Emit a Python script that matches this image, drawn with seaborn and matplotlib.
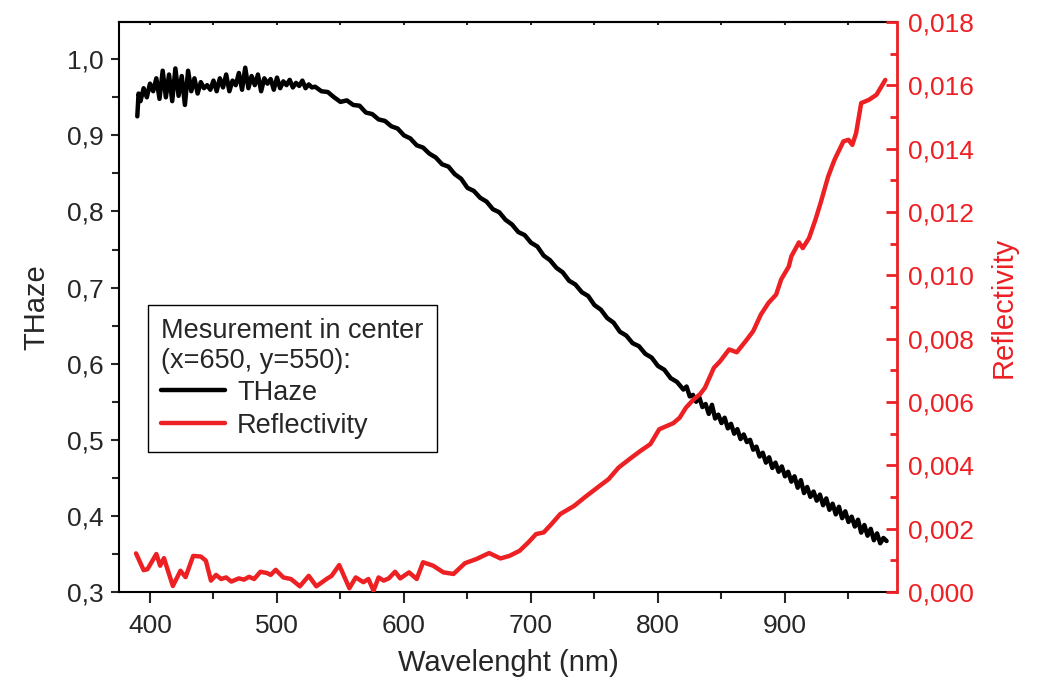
import numpy as np
import pandas as pd
import matplotlib
matplotlib.use('Agg')
import matplotlib.pyplot as plt
from matplotlib.ticker import MultipleLocator, FuncFormatter
import seaborn as sns

# THaze (left axis)
haze_wl = [390, 391, 392.5, 395, 397.5, 400, 402.5, 405, 407.5, 410, 412.5, 415, 417.5,
           420, 422.5, 425, 427.5, 430, 432.5, 435, 437.5, 440, 442.5, 445, 447.5,
           450, 452.5, 455, 457.5, 460, 462.5, 465, 467.5, 470, 472.5, 475, 477.5,
           480, 482.5, 485, 487.5, 490, 492.5, 495, 497.5, 500, 502.5, 505, 507.5,
           510, 512.5, 515, 517.5, 520, 522.5, 525, 527.5, 530,
           535, 540, 545, 550, 555, 560, 565, 570, 575, 580, 585, 590, 595, 600,
           605, 610, 615, 620, 625, 630, 635, 640, 645, 650, 655, 660, 665, 670,
           675, 680, 685, 690, 695, 700, 705, 710, 715, 720, 725, 730, 735, 740,
           745, 750, 755, 760, 765, 770, 775, 780, 785, 790, 795, 800, 805, 810, 815,
           820, 822.5, 825, 827.5, 830, 832.5, 835, 837.5, 840, 842.5, 845, 847.5,
           850, 852.5, 855, 857.5, 860, 862.5, 865, 867.5, 870, 872.5, 875, 877.5,
           880, 882.5, 885, 887.5, 890, 892.5, 895, 897.5, 900, 902.5, 905, 907.5,
           910, 912.5, 915, 917.5, 920, 922.5, 925, 927.5, 930, 932.5, 935, 937.5,
           940, 942.5, 945, 947.5, 950, 952.5, 955, 957.5, 960, 962.5, 965, 967.5,
           970, 972.5, 975, 977.5, 980]
haze_val = [0.925, 0.955, 0.945, 0.962, 0.950, 0.968, 0.958, 0.975, 0.948, 0.985, 0.950,
            0.980, 0.945, 0.988, 0.952, 0.978, 0.940, 0.985, 0.958, 0.975, 0.955, 0.970,
            0.962, 0.966, 0.960, 0.972, 0.958, 0.975, 0.963, 0.980, 0.958, 0.972, 0.966,
            0.982, 0.960, 0.989, 0.962, 0.978, 0.966, 0.980, 0.958, 0.975, 0.968, 0.974,
            0.960, 0.976, 0.962, 0.971, 0.966, 0.973, 0.963, 0.969, 0.965, 0.972, 0.962,
            0.967, 0.963, 0.964,
            0.958, 0.957, 0.950, 0.944, 0.946, 0.940, 0.939, 0.930, 0.928, 0.921, 0.919,
            0.912, 0.909, 0.900, 0.896, 0.887, 0.884, 0.876, 0.871, 0.862, 0.859, 0.849,
            0.843, 0.831, 0.827, 0.818, 0.813, 0.803, 0.799, 0.789, 0.783, 0.773, 0.769,
            0.759, 0.754, 0.742, 0.736, 0.726, 0.720, 0.709, 0.704, 0.694, 0.689, 0.677,
            0.671, 0.660, 0.654, 0.642, 0.637, 0.627, 0.623, 0.613, 0.608, 0.597, 0.592,
            0.581, 0.576,
            0.566, 0.570, 0.557, 0.559, 0.550, 0.556, 0.543, 0.547, 0.534, 0.546, 0.528,
            0.533, 0.522, 0.529, 0.515, 0.521, 0.508, 0.514, 0.501, 0.507, 0.497, 0.500,
            0.487, 0.491, 0.478, 0.483, 0.470, 0.477, 0.463, 0.470, 0.458, 0.465, 0.452,
            0.458, 0.445, 0.452, 0.437, 0.447, 0.430, 0.438, 0.425, 0.432, 0.420, 0.428,
            0.414, 0.423, 0.408, 0.416, 0.402, 0.412, 0.397, 0.406, 0.392, 0.399, 0.386,
            0.395, 0.378, 0.388, 0.374, 0.383, 0.368, 0.377, 0.364, 0.371, 0.367]

# Reflectivity (right axis)
refl_wl = [389, 395, 398, 405, 408, 411, 418, 424, 428, 434, 440, 444, 448, 452,
           456, 460, 464, 470, 474, 478, 482, 487, 492, 495, 499, 505, 511, 518,
           525, 531, 539, 543, 549, 557, 562, 568, 572, 576, 580, 584, 588, 593,
           597, 604, 610, 615, 623, 631, 639, 648, 657, 667, 676, 683, 691, 698,
           704, 710, 716, 723, 734, 742, 754, 761, 769, 778, 786, 794, 801, 812,
           817, 822, 828, 833, 837, 844, 849, 856, 862, 869, 875, 881, 887, 893,
           897, 903, 905, 911, 914, 919, 924, 928, 934, 939, 946, 950, 953, 956,
           960, 966, 972, 979]
refl_val = [0.00122, 0.00069, 0.00072, 0.00120, 0.00083, 0.00107, 0.00019, 0.00067,
            0.00047, 0.00114, 0.00112, 0.00099, 0.00036, 0.00054, 0.00041, 0.00046,
            0.00033, 0.00043, 0.00039, 0.00048, 0.00041, 0.00064, 0.00060, 0.00054,
            0.00070, 0.00046, 0.00041, 0.00018, 0.00051, 0.00018, 0.00041, 0.00051,
            0.00085, 0.00012, 0.00046, 0.00031, 0.00041, 0.00004, 0.00046, 0.00036,
            0.00043, 0.00064, 0.00043, 0.00062, 0.00041, 0.00094, 0.00083, 0.00062,
            0.00057, 0.00091, 0.00104, 0.00123, 0.00106, 0.00114, 0.00130, 0.00157,
            0.00183, 0.00188, 0.00214, 0.00246, 0.00272, 0.00298, 0.00335, 0.00356,
            0.00393, 0.00421, 0.00445, 0.00467, 0.00514, 0.00533, 0.00550, 0.00582,
            0.00608, 0.00624, 0.00645, 0.00708, 0.00729, 0.00766, 0.00757, 0.00792,
            0.00824, 0.00876, 0.00913, 0.00939, 0.00987, 0.01028, 0.01060, 0.01104,
            0.01086, 0.01118, 0.01176, 0.01228, 0.01312, 0.01365, 0.01423, 0.01428,
            0.01412, 0.01449, 0.01544, 0.01554, 0.01570, 0.01617]

red = '#ED2024'

sns.set_style('ticks')
plt.rcParams['font.family'] = ['Liberation Sans', 'DejaVu Sans']

haze_df = pd.DataFrame({'wl': haze_wl, 'v': haze_val})
refl_df = pd.DataFrame({'wl': refl_wl, 'v': refl_val})

fig = plt.figure(figsize=(10.38, 6.83), dpi=100)
ax = fig.add_axes([119/1038, 1 - 592/683, (897 - 119)/1038, (592 - 22)/683])
ax2 = ax.twinx()

sns.lineplot(data=haze_df, x='wl', y='v', ax=ax, color='black', lw=3.2,
             estimator=None, sort=False)
sns.lineplot(data=refl_df, x='wl', y='v', ax=ax2, color=red, lw=3.2,
             estimator=None, sort=False)

ax.set_xlim(375.6, 988.2)
ax.set_ylim(0.3, 1.049)
ax2.set_ylim(0, 0.018)

ax.xaxis.set_major_locator(MultipleLocator(100))
ax.xaxis.set_minor_locator(MultipleLocator(50))
ax.yaxis.set_major_locator(MultipleLocator(0.1))
ax.yaxis.set_minor_locator(MultipleLocator(0.05))
ax2.yaxis.set_major_locator(MultipleLocator(0.002))
ax2.yaxis.set_minor_locator(MultipleLocator(0.001))

ax.yaxis.set_major_formatter(FuncFormatter(lambda v, p: f'{v:.1f}'.replace('.', ',')))
ax2.yaxis.set_major_formatter(FuncFormatter(lambda v, p: f'{v:.3f}'.replace('.', ',')))

fs = 19
ax.tick_params(axis='x', which='major', direction='out', length=8, width=1.5,
               labelsize=fs, pad=8)
ax.tick_params(axis='x', which='minor', direction='out', length=5, width=1.5)
ax.tick_params(axis='y', which='major', direction='out', length=6, width=1.5,
               labelsize=fs, pad=5)
ax.tick_params(axis='y', which='minor', direction='out', length=5, width=1.5)
ax2.tick_params(axis='y', which='major', direction='in', length=8, width=2,
                colors=red, labelsize=fs, pad=8)
ax2.tick_params(axis='y', which='minor', direction='in', length=5, width=2, colors=red)

# tiny marks on the top frame
ax3 = ax.secondary_xaxis('top')
ax3.xaxis.set_major_locator(MultipleLocator(100))
ax3.xaxis.set_minor_locator(MultipleLocator(50))
ax3.tick_params(axis='x', which='both', direction='in', length=2, width=1.5,
                labeltop=False)
ax3.spines['top'].set_linewidth(1.5)

for s in ['left', 'bottom', 'top']:
    ax.spines[s].set_linewidth(1.5)
    ax.spines[s].set_color('black')
ax2.spines['right'].set_color(red)
ax2.spines['right'].set_linewidth(2)
for s in ['left', 'bottom', 'top']:
    ax2.spines[s].set_visible(False)

ax.set_xlabel('Wavelenght (nm)', fontsize=21, labelpad=8)
ax.set_ylabel('THaze', fontsize=21, labelpad=12)
ax2.set_ylabel('Reflectivity', fontsize=21, color=red, labelpad=11)

handles = [ax.get_lines()[0], ax2.get_lines()[0]]
leg = ax2.legend(handles, ['THaze', 'Reflectivity'],
                 title='Mesurement in center\n(x=650, y=550):',
                 loc='upper left', bbox_to_anchor=(0.037, 0.504),
                 alignment='left', fancybox=False, edgecolor='black',
                 framealpha=1, fontsize=19.5, title_fontsize=19.5,
                 handlelength=2.35, handletextpad=0.45, borderpad=0.5,
                 labelspacing=0.25, borderaxespad=0)
leg.get_frame().set_linewidth(1)
leg._legend_box.sep = 4
leg.get_title().set_linespacing(1.2)

fig.savefig('out.png', dpi=100)
